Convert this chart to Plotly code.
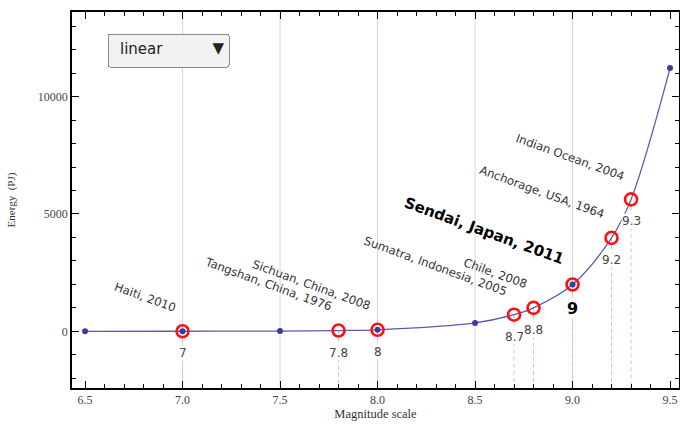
import plotly.graph_objects as go

# ---- data ----
curve_mag = [6.5, 7.0, 7.5, 7.8, 8.0, 8.5, 8.7, 8.8, 9.0, 9.2, 9.3, 9.5]
curve_energy = [0.4, 2.0, 11, 32, 63, 355, 708, 1000, 1995, 3981, 5623, 11220]

dot_mag = [6.5, 7.0, 7.5, 8.0, 8.5, 9.0, 9.5]
dot_energy = [0.4, 2.0, 11, 63, 355, 1995, 11220]

quake_mag = [7.0, 7.8, 8.0, 8.7, 8.8, 9.0, 9.2, 9.3]
quake_energy = [2.0, 32, 63, 708, 1000, 1995, 3981, 5623]
quake_names = ["Haiti, 2010", "Tangshan, China, 1976", "Sichuan, China, 2008",
               "Sumatra, Indonesia, 2005", "Chile, 2008", "Sendai, Japan, 2011",
               "Anchorage, USA, 1964", "Indian Ocean, 2004"]
mag_labels = ["7", "7.8", "8", "8.7", "8.8", "9", "9.2", "9.3"]
highlight = "Sendai, Japan, 2011"

grid_x = [7.0, 7.5, 8.0, 8.5, 9.0]
x_ticks = [6.5, 7.0, 7.5, 8.0, 8.5, 9.0, 9.5]
y_ticks = [0, 5000, 10000]

x_range = [6.433, 9.546]
y_range = [-2417, 13610]

fig = go.Figure()

# dashed drop lines from each quake down to the axis
dx, dy = [], []
for m, e in zip(quake_mag, quake_energy):
    dx += [m, m, None]
    dy += [e, y_range[0], None]
fig.add_trace(go.Scatter(x=dx, y=dy, mode="lines",
                         line=dict(color="#f5b5b5", width=1, dash="4px,3px"),
                         hoverinfo="skip", showlegend=False))

# energy curve
fig.add_trace(go.Scatter(x=curve_mag, y=curve_energy, mode="lines",
                         line=dict(color="#5a5ab4", width=1.3, shape="spline", smoothing=1.0),
                         hoverinfo="skip", showlegend=False))
# blue sample dots
fig.add_trace(go.Scatter(x=dot_mag, y=dot_energy, mode="markers",
                         marker=dict(color="#3c3ca0", size=6),
                         showlegend=False))
# red circles for earthquakes
fig.add_trace(go.Scatter(x=quake_mag, y=quake_energy, mode="markers",
                         marker=dict(symbol="circle-open", color="#ff1010", size=12,
                                     line=dict(width=2.6, color="#ff1010")),
                         text=quake_names, hoverinfo="text+x+y",
                         showlegend=False))

# gridlines
for gx in grid_x:
    fig.add_shape(type="line", xref="x", yref="paper", x0=gx, x1=gx, y0=0, y1=1,
                  line=dict(color="#d6d6d6", width=1), layer="below")

# annotations
for m, e, name, lab in zip(quake_mag, quake_energy, quake_names, mag_labels):
    bold = name == highlight
    fig.add_annotation(
        x=m, y=e, text=f"<b>{name}</b>" if bold else name, showarrow=False,
        textangle=20, xanchor="right", yanchor="bottom", xshift=-3, yshift=14,
        font=dict(family="DejaVu Sans", size=15 if bold else 11.7,
                  color="#000000" if bold else "#333333"))
    fig.add_annotation(
        x=m, y=e, text=f"<b>{lab}</b>" if bold else lab, showarrow=False,
        xanchor="center", yanchor="middle", yshift=-24 if bold else -22,
        bgcolor="white", borderpad=0,
        font=dict(family="DejaVu Sans", size=16 if bold else 12,
                  color="#000000" if bold else "#444444"))

axis_common = dict(showline=True, linecolor="black", linewidth=1.5, mirror="allticks",
                   ticks="inside", ticklen=7, tickwidth=1.2, tickcolor="black",
                   showgrid=False, zeroline=False,
                   tickfont=dict(family="Liberation Serif", size=12, color="#444444"))

fig.update_xaxes(range=x_range, tickvals=x_ticks, tickformat=".1f",
                 minor=dict(dtick=0.1, tick0=6.5, ticks="inside", ticklen=4,
                            tickwidth=1, tickcolor="black", showgrid=False),
                 title=dict(text="Magnitude scale", standoff=3,
                            font=dict(family="Liberation Serif", size=12.5, color="#333333")),
                 **axis_common)
fig.update_yaxes(range=y_range, tickvals=y_ticks, tickformat="d",
                 minor=dict(dtick=1000, tick0=0, ticks="inside", ticklen=4,
                            tickwidth=1, tickcolor="black", showgrid=False),
                 title=dict(text="Energy\u00a0\u00a0(PJ)", standoff=20,
                            font=dict(family="Liberation Serif", size=11, color="#333333")),
                 **axis_common)

fig.update_layout(
    width=680, height=429,
    margin=dict(l=72, r=1, t=12, b=41, autoexpand=False),
    plot_bgcolor="white", paper_bgcolor="white",
    showlegend=False,
    updatemenus=[dict(
        type="dropdown", active=0, showactive=True,
        x=0.058, y=0.944, xanchor="left", yanchor="top",
        bgcolor="#f2f2f2", bordercolor="#8a8a8a", borderwidth=1,
        font=dict(family="DejaVu Sans", size=15, color="#222222"),
        pad=dict(l=0, r=0, t=0, b=0),
        buttons=[
            dict(label="linear\u00a0\u00a0\u00a0\u00a0\u00a0\u00a0\u00a0\u00a0", method="relayout",
                 args=[{"yaxis.type": "linear", "yaxis.range": y_range}]),
            dict(label="log", method="relayout",
                 args=[{"yaxis.type": "log", "yaxis.range": [-0.6, 4.2]}]),
        ])],
)

# remove the page's default 8px body margin so the figure fills the window exactly
fig.write_html("out.html",
               config={"displayModeBar": False},
               post_script="document.body.style.margin='0';document.body.style.overflow='hidden';")
